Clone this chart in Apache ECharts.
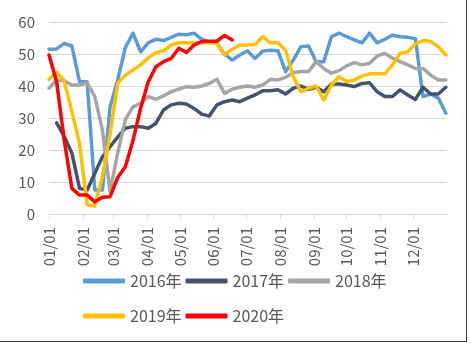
<!DOCTYPE html>
<html><head><meta charset="utf-8">
<script src="https://cdn.jsdelivr.net/npm/echarts@6/dist/echarts.min.js"></script>
<style>
html,body{margin:0;padding:0;background:#fff}
#c{width:471px;height:343px;position:absolute;left:0;top:0}
#f{position:absolute;left:0;top:0;width:466px;height:341px;border-right:1px solid #3a3a3a;border-bottom:1px solid #3a3a3a;pointer-events:none}
</style>
</head><body><div id="c"></div><div id="f"></div>
<script>
// day-of-year of each weekly observation
const weekDay = [0,7,14,21,28,35,42,49,56,63,70,77,84,91,98,105,112,119,126,133,140,147,154,161,168,175,182,189,196,203,210,217,224,231,238,245,252,259,266,273,280,287,294,301,308,315,322,329,336,343,350,357,364];
const monthStart = [0,31,59,90,120,151,181,212,243,273,304,334];
const monthLabels = ['01/01','02/01','03/01','04/01','05/01','06/01','07/01','08/01','09/01','10/01','11/01','12/01'];
const yTicks = [0,10,20,30,40,50,60];

const s2016 = [51.5,51.6,53.3,52.5,41.3,41.3,7.5,7.5,33.5,41.9,52,56.5,50.7,53.5,54.6,54.2,55.2,56.2,56,56.5,54.6,53.8,53.3,50,48.1,49.7,51,48.6,50.9,51.2,51,44.5,48.1,52.3,52.5,47.6,47.6,55.4,56.5,55.4,54.4,53.5,56.5,53.5,54.6,55.9,55.4,55.2,54.8,36.7,37.5,36.2,31.5];
const s2017 = [null,28.5,24.2,19,8,7.5,12.7,17.9,21,24,26.8,27.3,27.3,26.8,28.3,32.5,34.1,34.6,34.4,33,31.2,30.6,34.1,35.1,35.6,35.1,36.2,37.2,38.5,38.5,38.8,37.5,39.3,40,39,39.6,38.2,40.6,40.6,40.3,39.8,40.8,41,38.2,36.7,36.7,38.8,37.2,35.8,39.6,37.5,37.5,39.6];
const s2018 = [39.3,41.9,41.6,40.3,40.3,41,36.7,26.2,7,19,29.4,33.5,34.6,36.7,35.8,36.9,38.2,39,39.8,39.6,40,40.8,42.1,37.7,39,39.6,40,39.6,40.3,42.1,41.9,42.7,44.2,44.5,44.5,47.6,45.5,44,44.8,46.3,47.3,46.6,47.1,49.4,50.2,48.7,47.6,46.6,45.5,45.5,43.4,41.9,41.9];
const s2019 = [42.1,44.3,41.5,32,22,2.8,2.5,11.7,25,40.8,43.4,45,46.6,48.8,50.4,51,52.8,53.5,53.5,53.5,53.5,53.5,53.3,49.7,51.5,52.8,52.8,53,55.4,53.5,53.5,51.2,43,38.2,39.3,40,35.6,40.3,42.9,41.4,41.9,43.1,43.8,43.8,43.8,46.6,50.2,50.7,53.1,54.2,53.9,52.3,49.7];
const s2020 = [49.7,41.3,23,8,5.9,5.9,3.8,5.2,5.4,11.4,14.8,23,33,41.3,46,47.6,48.6,51.8,50.5,52.8,53.9,54,54,55.8,54.4];

const seriesNames = ['2016年','2017年','2018年','2019年','2020年'];
const seriesData = [s2016,s2017,s2018,s2019,s2020];
const colors = ['#5B9BD5','#44546A','#A5A5A5','#FFC000','#FF0000'];

const FONT = '"Noto Sans CJK SC", "Noto Sans", sans-serif';
const chart = echarts.init(document.getElementById('c'));
const legendBase = {
  left: 78, itemWidth: 42, itemHeight: 5, itemGap: 4, icon: 'roundRect',
  textStyle: {fontSize: 16, color: '#595959', fontFamily: FONT}
};
chart.setOption({
  animation: false,
  color: colors,
  grid: {left: 49, right: 24, top: 22, bottom: 129, outerBoundsMode: 'none'},
  legend: [
    Object.assign({}, legendBase, {top: 268, data: seriesNames.slice(0,3)}),
    Object.assign({}, legendBase, {top: 303, data: seriesNames.slice(3)})
  ],
  xAxis: {
    type: 'value', min: 0, max: 365,
    axisLine: {show: true, lineStyle: {color: '#D9D9D9', width: 1}},
    axisTick: {show: true, customValues: monthStart, length: 5, lineStyle: {color: '#D9D9D9'}},
    axisLabel: {customValues: monthStart, rotate: 90, margin: 13, fontSize: 15, color: '#595959', fontFamily: FONT,
      formatter: v => monthLabels[monthStart.indexOf(v)] || ''},
    splitLine: {show: false}
  },
  yAxis: {
    type: 'value', min: yTicks[0], max: yTicks[yTicks.length-1], interval: 10,
    axisLine: {show: false}, axisTick: {show: false},
    axisLabel: {fontSize: 15, color: '#595959', fontFamily: FONT, margin: 14},
    splitLine: {lineStyle: {color: '#D9D9D9', width: 1}}
  },
  series: seriesNames.map((n, k) => ({
    name: n, type: 'line', showSymbol: false, symbol: 'none',
    lineStyle: {width: 3.5, color: colors[k], cap: 'round', join: 'round'},
    itemStyle: {color: colors[k]},
    data: seriesData[k].map((v, i) => [weekDay[i], v])
  }))
});
</script></body></html>
